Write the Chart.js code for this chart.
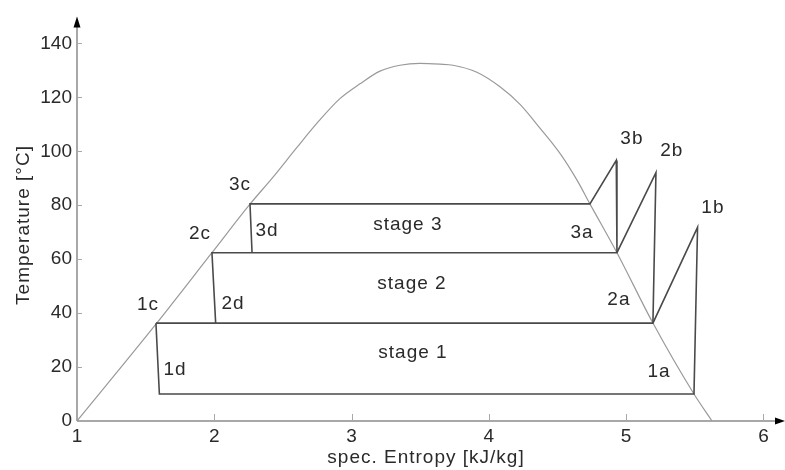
<!DOCTYPE html>
<html>
<head>
<meta charset="utf-8">
<script src="https://cdn.jsdelivr.net/npm/chart.js@4/dist/chart.umd.min.js"></script>
<style>
  html, body { margin: 0; padding: 0; background: #fff; }
  #wrap { width: 785px; height: 470px; }
</style>
</head>
<body>
<div id="wrap"><canvas id="chart" width="785" height="470"></canvas></div>
<script>
// axis ticks
const xTicks = [1, 2, 3, 4, 5, 6]
const yTicks = [0, 20, 40, 60, 80, 100, 120, 140]

// saturation dome (spec. entropy kJ/kg, temperature °C)
const domeS = [1.0, 1.575, 1.983, 2.26, 2.428, 2.602, 2.748, 2.915, 3.061, 3.207, 3.352, 3.498, 3.644, 3.739, 3.913, 4.081, 4.227, 4.372, 4.518, 4.642, 4.736, 4.933, 5.195, 5.494, 5.625]
const domeT = [0, 35.9, 62.4, 80.4, 90.4, 101.4, 110.4, 119.5, 125.0, 129.7, 131.9, 132.6, 132.3, 131.9, 129.3, 123.9, 117.4, 108.6, 99.2, 89.3, 80.5, 62.4, 36.3, 10.0, 0]

// cycle stages (closed paths)
const stage1S = [1.575, 1.6, 5.494, 5.52, 5.195, 1.575]
const stage1T = [36.3, 10.0, 10.0, 71.8, 36.3, 36.3]
const stage2S = [2.01, 1.983, 4.933, 5.217, 5.195]
const stage2T = [36.3, 62.4, 62.4, 92.1, 36.3]
const stage3S = [2.275, 2.26, 4.736, 4.928, 4.933]
const stage3T = [62.4, 80.5, 80.5, 96.6, 62.4]

// state point labels
const pointNames = ["1a", "1b", "1c", "1d", "2a", "2b", "2c", "2d", "3a", "3b", "3c", "3d"]
const pointS = [5.239, 5.632, 1.517, 1.714, 4.947, 5.333, 1.896, 2.136, 4.678, 5.042, 2.187, 2.384]
const pointT = [18.4, 79.2, 43.2, 18.9, 45.0, 100.3, 69.3, 43.5, 69.7, 104.6, 87.5, 70.4]

const stageNames = ["stage 1", "stage 2", "stage 3"]
const stageS = [3.447, 3.44, 3.41]
const stageT = [25.3, 50.8, 72.6]

const FONT = "Arial, 'Liberation Sans', Helvetica, sans-serif"
const TEXT_COLOR = "#2a2a2a"
const AXIS_COLOR = "#a8a8a8"

const toPoints = (xs, ys) => xs.map((x, i) => ({ x: x, y: ys[i] }))

const lineDataset = (xs, ys, color, width, order, smooth) => ({
  data: toPoints(xs, ys),
  showLine: true,
  borderColor: color,
  borderWidth: width,
  pointRadius: 0,
  fill: false,
  cubicInterpolationMode: smooth ? "monotone" : "default",
  tension: 0,
  order: order
})

// axes with arrows, inward tick marks, axis titles and point labels
const diagramPlugin = {
  id: "diagram",
  beforeDatasetsDraw(chart) {
    const { ctx, chartArea, scales } = chart
    const x0 = scales.x.getPixelForValue(1)
    const y0 = scales.y.getPixelForValue(0)
    ctx.save()
    ctx.strokeStyle = AXIS_COLOR
    ctx.lineWidth = 2
    ctx.beginPath()
    ctx.moveTo(x0, y0)
    ctx.lineTo(x0, chartArea.top + 4)
    ctx.moveTo(x0, y0)
    ctx.lineTo(chartArea.right - 4, y0)
    ctx.stroke()

    ctx.lineWidth = 1
    ctx.beginPath()
    yTicks.forEach((v) => {
      if (v === 0) return
      const py = Math.round(scales.y.getPixelForValue(v)) + 0.5
      ctx.moveTo(x0, py)
      ctx.lineTo(x0 + 5, py)
    })
    xTicks.forEach((v) => {
      if (v === 1) return
      const px = Math.round(scales.x.getPixelForValue(v)) + 0.5
      ctx.moveTo(px, y0)
      ctx.lineTo(px, y0 - 7)
    })
    ctx.stroke()

    ctx.fillStyle = "#000"
    ctx.beginPath()
    ctx.moveTo(x0, chartArea.top)
    ctx.lineTo(x0 - 3.5, chartArea.top + 11)
    ctx.lineTo(x0 + 3.5, chartArea.top + 11)
    ctx.closePath()
    ctx.fill()
    ctx.beginPath()
    ctx.moveTo(chartArea.right, y0)
    ctx.lineTo(chartArea.right - 10, y0 - 3.5)
    ctx.lineTo(chartArea.right - 10, y0 + 3.5)
    ctx.closePath()
    ctx.fill()
    ctx.restore()
  },
  afterDraw(chart) {
    const { ctx, scales } = chart
    ctx.save()
    ctx.fillStyle = TEXT_COLOR
    ctx.font = "19px " + FONT
    ctx.letterSpacing = "1px"
    ctx.textAlign = "center"
    ctx.textBaseline = "middle"

    pointNames.forEach((name, i) => {
      ctx.fillText(name, scales.x.getPixelForValue(pointS[i]), scales.y.getPixelForValue(pointT[i]))
    })
    stageNames.forEach((name, i) => {
      ctx.fillText(name, scales.x.getPixelForValue(stageS[i]), scales.y.getPixelForValue(stageT[i]))
    })

    // axis titles
    ctx.textBaseline = "alphabetic"
    ctx.fillText("spec. Entropy [kJ/kg]", 426, 463)
    ctx.translate(29, 225)
    ctx.rotate(-Math.PI / 2)
    ctx.fillText("Temperature [°C]", 0, 0)
    ctx.restore()
  }
}

new Chart(document.getElementById("chart"), {
  type: "scatter",
  data: {
    datasets: [
      lineDataset(domeS, domeT, "#9a9a9a", 1.2, 2, true),
      lineDataset(stage1S, stage1T, "#4a4a4a", 1.6, 1, false),
      lineDataset(stage2S, stage2T, "#4a4a4a", 1.6, 1, false),
      lineDataset(stage3S, stage3T, "#4a4a4a", 1.6, 1, false)
    ]
  },
  plugins: [diagramPlugin],
  options: {
    responsive: false,
    animation: false,
    events: [],
    layout: { padding: { top: 8, right: 0, left: 0, bottom: 0 } },
    plugins: {
      legend: { display: false },
      tooltip: { enabled: false }
    },
    scales: {
      x: {
        type: "linear",
        min: 1,
        max: 6.157,
        border: { display: false },
        grid: { display: false, drawTicks: false },
        afterBuildTicks: (scale) => { scale.ticks = xTicks.map((v) => ({ value: v })) },
        afterFit: (scale) => { scale.height = 49 },
        ticks: {
          padding: 4,
          color: TEXT_COLOR,
          font: { family: FONT, size: 19 },
          maxRotation: 0,
          autoSkip: false
        }
      },
      y: {
        type: "linear",
        min: 0,
        max: 150,
        border: { display: false },
        grid: { display: false, drawTicks: false },
        afterBuildTicks: (scale) => { scale.ticks = yTicks.map((v) => ({ value: v })) },
        afterFit: (scale) => { scale.width = 77 },
        ticks: {
          padding: 5,
          color: TEXT_COLOR,
          font: { family: FONT, size: 19 },
          autoSkip: false
        }
      }
    }
  }
})
</script>
</body>
</html>
